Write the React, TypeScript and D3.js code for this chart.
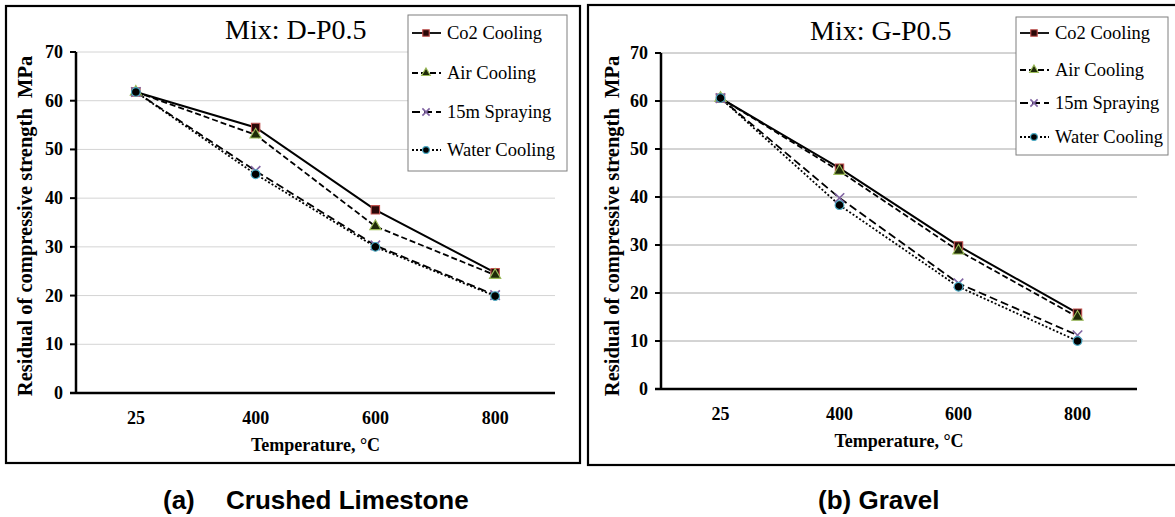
import React from 'react';
import * as d3 from 'd3';

// temperatures on the x axis, MPa on the y axis
const temperatures = ['25', '400', '600', '800'];
const seriesNames = ['Co2 Cooling', 'Air Cooling', '15m Spraying', 'Water Cooling'];
const yTicks = [0, 10, 20, 30, 40, 50, 60, 70];

// (a) crushed limestone, mix D-P0.5
const limestoneCo2 = [61.8, 54.5, 37.6, 24.7];
const limestoneAir = [61.8, 53.0, 34.2, 24.2];
const limestoneSpray = [61.8, 45.6, 30.3, 20.1];
const limestoneWater = [61.8, 44.9, 30.0, 19.9];

// (b) gravel, mix G-P0.5
const gravelCo2 = [60.6, 46.0, 29.8, 15.8];
const gravelAir = [60.6, 45.4, 28.8, 15.0];
const gravelSpray = [60.6, 39.8, 22.0, 11.2];
const gravelWater = [60.6, 38.3, 21.3, 10.0];

const serif = '"Liberation Serif", "Times New Roman", serif';
const sans = '"Liberation Sans", Arial, sans-serif';

const styles = [
  { dash: null, symbol: d3.symbolSquare, fill: '#2a0808', stroke: '#c0504d', size: 70 },
  { dash: '6,3', symbol: d3.symbolTriangle, fill: '#1e2a08', stroke: '#9bbb59', size: 55 },
  { dash: '8,4', symbol: d3.symbolTimes || d3.symbolCross, fill: 'none', stroke: '#8064a2', size: 60 },
  { dash: '2,2', symbol: d3.symbolCircle, fill: '#000', stroke: '#4bacc6', size: 60 },
];

const Marker = ({ i, x, y, scale = 1 }) => {
  const s = styles[i];
  const path = d3.symbol().type(s.symbol).size(s.size * scale)();
  return (
    <path
      d={path}
      transform={`translate(${x},${y})`}
      fill={s.fill}
      stroke={s.stroke}
      strokeWidth={i === 2 ? 1.6 : 1.1}
    />
  );
};

const Panel = ({ frame, plot, title, titleX, titleY, series, legend, gridColor, yTitleX, caption }) => {
  const x = d3.scaleBand().domain(temperatures).range([plot.left, plot.right]).padding(0);
  const y = d3.scaleLinear().domain([0, 70]).range([plot.bottom, plot.top]);
  const cx = (t) => x(t) + x.bandwidth() / 2;
  const line = d3.line().x((d, i) => cx(temperatures[i])).y((d) => y(d));
  const midX = (plot.left + plot.right) / 2;

  return (
    <g>
      <rect x={frame.x} y={frame.y} width={frame.w} height={frame.h} fill="#fff" stroke="#000" strokeWidth={2.2} />
      <g>
        {yTicks.filter((t) => t > 0).map((t) => (
          <line key={t} x1={plot.left} x2={plot.right} y1={y(t)} y2={y(t)} stroke={gridColor} strokeWidth={1} />
        ))}
      </g>
      <g>
        {series.map((vals, i) => (
          <path
            key={i}
            d={line(vals)}
            fill="none"
            stroke="#000"
            strokeWidth={i === 0 ? 2 : 1.8}
            strokeDasharray={styles[i].dash || undefined}
          />
        ))}
        {series.map((vals, i) =>
          vals.map((v, j) => <Marker key={`${i}-${j}`} i={i} x={cx(temperatures[j])} y={y(v)} />)
        )}
      </g>
      {/* axes */}
      <line x1={plot.left} x2={plot.left} y1={plot.top} y2={plot.bottom} stroke="#000" strokeWidth={2.5} />
      <line x1={plot.left - 6} x2={plot.right} y1={plot.bottom} y2={plot.bottom} stroke="#000" strokeWidth={2.5} />
      {yTicks.map((t) => (
        <g key={t}>
          <line x1={plot.left - 6} x2={plot.left} y1={y(t)} y2={y(t)} stroke="#000" strokeWidth={2} />
          <text x={plot.left - 13} y={y(t) + 6} textAnchor="end" fontFamily={serif} fontWeight="bold" fontSize={18}>
            {t}
          </text>
        </g>
      ))}
      {temperatures.map((t) => (
        <text key={t} x={cx(t)} y={plot.bottom + 31} textAnchor="middle" fontFamily={serif} fontWeight="bold" fontSize={18}>
          {t}
        </text>
      ))}
      <text x={midX} y={plot.bottom + 58} textAnchor="middle" fontFamily={serif} fontWeight="bold" fontSize={18}>
        Temperature, °C
      </text>
      <text
        transform={`translate(${yTitleX},226) rotate(-90)`}
        textAnchor="middle"
        fontFamily={serif}
        fontWeight="bold"
        fontSize={20.5}
        style={{ whiteSpace: 'pre' }}
      >
        {'Residual of compressive strength  MPa'}
      </text>
      <text x={titleX} y={titleY} fontFamily={serif} fontSize={28}>
        {title}
      </text>
      {/* legend */}
      <rect x={legend.x} y={legend.y} width={legend.w} height={legend.h} fill="#fff" stroke="#7f7f7f" strokeWidth={1} />
      {seriesNames.map((name, i) => {
        const ly = legend.rows[i];
        return (
          <g key={name}>
            <line
              x1={legend.x + 4}
              x2={legend.x + 33}
              y1={ly}
              y2={ly}
              stroke="#000"
              strokeWidth={1.8}
              strokeDasharray={styles[i].dash || undefined}
            />
            <Marker i={i} x={legend.x + 18} y={ly} scale={0.6} />
            <text x={legend.x + 39} y={ly + 6} fontFamily={serif} fontSize={18.5}>
              {name}
            </text>
          </g>
        );
      })}
      {caption.map((c) => (
        <text key={c.text} x={c.x} y={509} fontFamily={sans} fontWeight="bold" fontSize={26}>
          {c.text}
        </text>
      ))}
    </g>
  );
};

export default function App() {
  return (
    <svg
      width={1175}
      height={517}
      style={{ position: 'absolute', left: 0, top: 0, background: '#fff' }}
    >
      <rect width={1175} height={517} fill="#fff" />
      <Panel
        frame={{ x: 6, y: 6, w: 574, h: 457 }}
        plot={{ left: 76, right: 555, top: 52, bottom: 393 }}
        title="Mix: D-P0.5"
        titleX={225}
        titleY={39}
        series={[limestoneCo2, limestoneAir, limestoneSpray, limestoneWater]}
        legend={{ x: 408, y: 15, w: 159, h: 156, rows: [33, 73, 112, 150] }}
        gridColor="#d4d4d4"
        yTitleX={32}
        caption={[{ text: '(a)', x: 163 }, { text: 'Crushed Limestone', x: 226 }]}
      />
      <Panel
        frame={{ x: 588, y: 5, w: 600, h: 460 }}
        plot={{ left: 661, right: 1137, top: 53, bottom: 389 }}
        title="Mix: G-P0.5"
        titleX={810}
        titleY={40}
        series={[gravelCo2, gravelAir, gravelSpray, gravelWater]}
        legend={{ x: 1016, y: 17, w: 152, h: 138, rows: [33, 70, 103, 137] }}
        gridColor="#a8a8a8"
        yTitleX={619}
        caption={[{ text: '(b) Gravel', x: 818 }]}
      />
    </svg>
  );
}
